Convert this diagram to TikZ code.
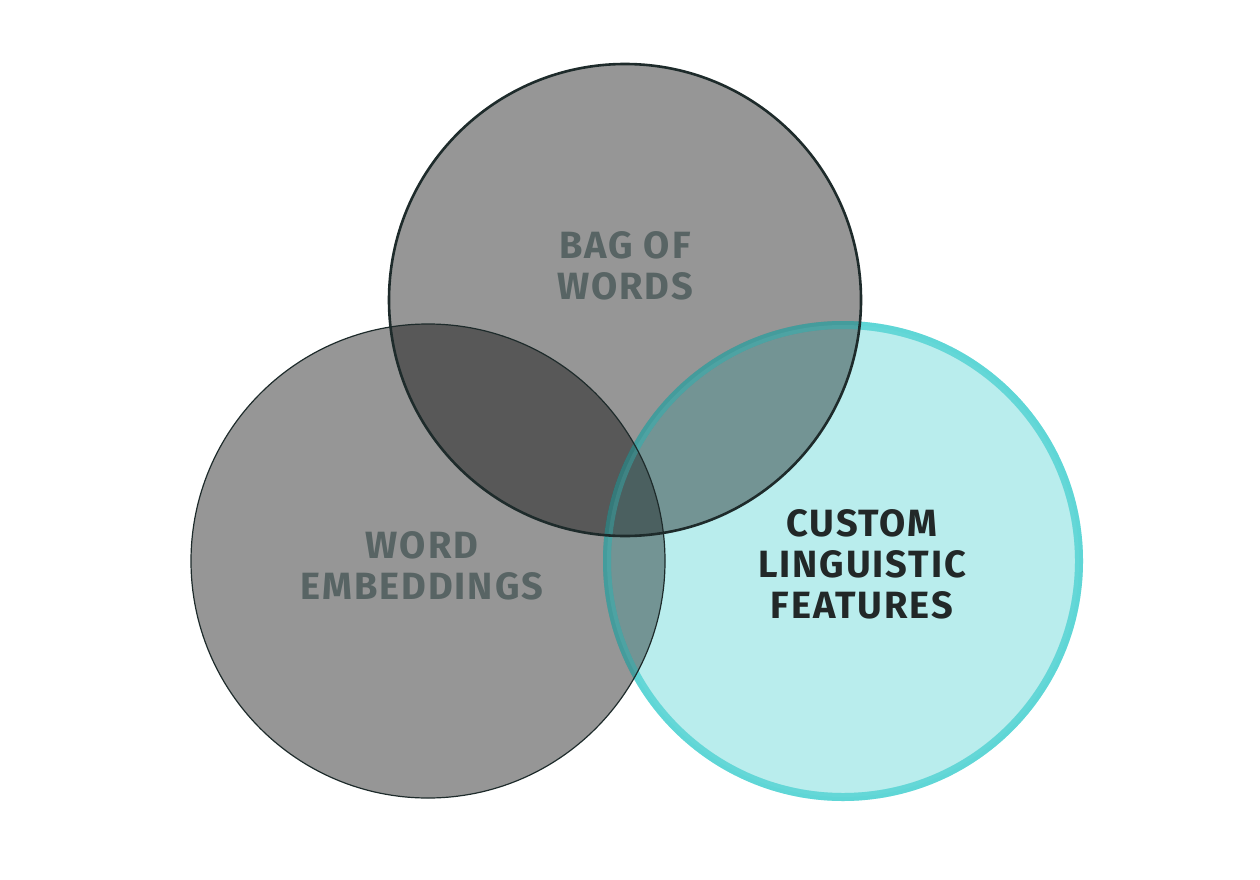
\documentclass[tikz,border=0pt]{standalone}
\usepackage{fontspec}
\setmainfont{Fira Sans}
\usepackage{tikz}
\usetikzlibrary{positioning}
\definecolor{setGray}{RGB}{0,0,0}
\definecolor{setEdge}{RGB}{30,43,43}
\definecolor{setCyanFill}{RGB}{185,237,237}
\definecolor{setCyanEdge}{RGB}{95,214,214}
\definecolor{labelGray}{RGB}{88,100,100}
\definecolor{labelDark}{RGB}{34,40,40}
\tikzset{
    grayfill/.style={fill=setGray, fill opacity=0.41},
    grayedge/.style={draw=setEdge},
    cyanset/.style={fill=setCyanFill, draw=setCyanEdge, line width=8pt},
    cyanglaze/.style={cyanset, fill opacity=0.1, draw opacity=0.35},
    setlabel/.style={align=center, font=\fontsize{38}{41}\selectfont\bfseries\addfontfeatures{LetterSpace=5}, text=labelGray}
}

\begin{document}
\begin{tikzpicture}[x=1pt,y=-1pt]
        \useasboundingbox (0,0) rectangle (1260,880);
        \coordinate (cEmb) at (428,561);
        \coordinate (cBow) at (625,300);
        \coordinate (cCus) at (843,561);
        % fills first, edges on top
        \draw[cyanset] (cCus) circle (236);
        \fill[grayfill] (cEmb) circle (237);
        \fill[grayfill] (cBow) circle (236);
        \draw[cyanglaze] (cCus) circle (236);
        \draw[grayedge, line width=1.2pt] (cEmb) circle (237);
        \draw[grayedge, line width=2.6pt] (cBow) circle (236);
        \node[setlabel] (bow) at (625,266) {BAG OF\\WORDS};
        \node[setlabel] (emb) at (422,566) {WORD\\EMBEDDINGS};
        \node[setlabel, text=labelDark] (cus) at (862,564) {CUSTOM\\LINGUISTIC\\FEATURES};
      \end{tikzpicture}
\end{document}
